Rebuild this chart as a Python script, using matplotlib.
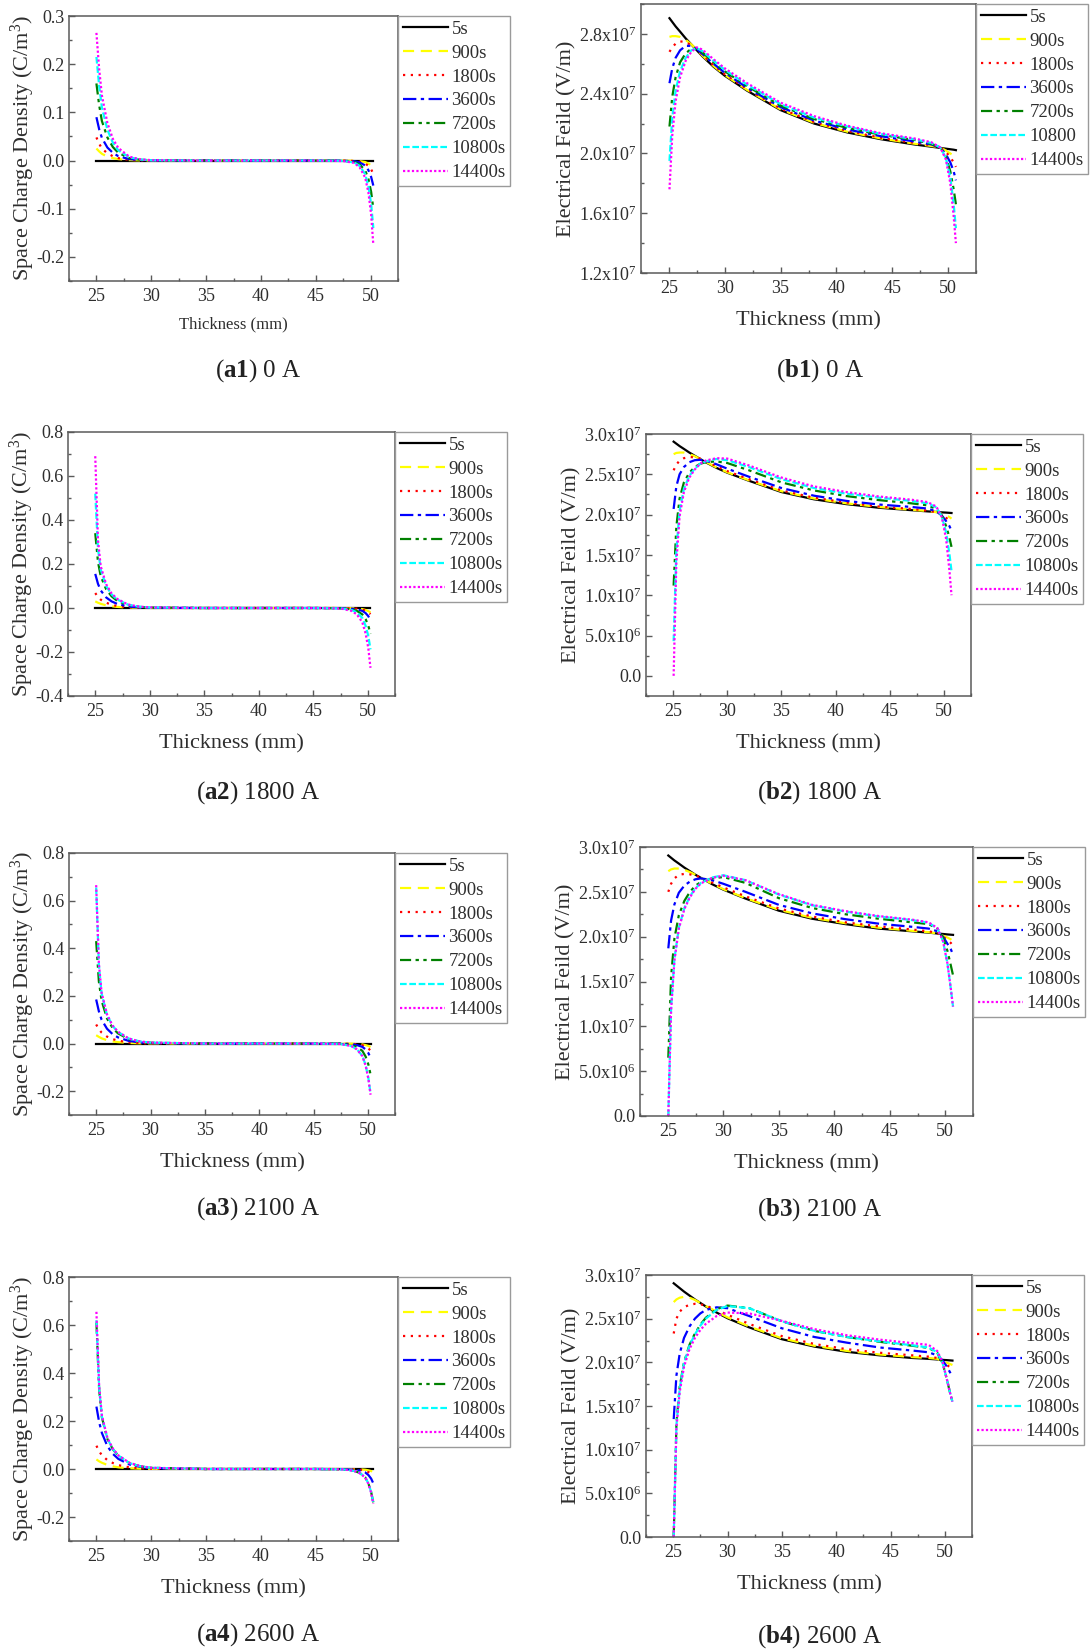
import numpy as np
import matplotlib.pyplot as plt
from matplotlib.ticker import MultipleLocator, FuncFormatter, FormatStrFormatter

plt.rcParams['font.family'] = ['Liberation Serif', 'DejaVu Serif']
plt.rcParams['mathtext.fontset'] = 'custom'
plt.rcParams['mathtext.rm'] = 'Liberation Serif'
plt.rcParams['mathtext.it'] = 'Liberation Serif:italic'
plt.rcParams['mathtext.bf'] = 'Liberation Serif:bold'
plt.rcParams['axes.unicode_minus'] = False

W, H = 1091, 1652

times = ['5s', '900s', '1800s', '3600s', '7200s', '10800s', '14400s']
times_b1 = ['5s', '900s', '1800s', '3600s', '7200s', '10800', '14400s']

# thickness positions (mm) for space charge density curves
x_rho = [25.0, 25.25, 25.5, 26.0, 26.5, 27.0, 28.0, 29.0, 30.0, 35.0, 45.0,
         47.5, 48.5, 49.0, 49.5, 49.8, 50.05, 50.25]

# space charge density (C/m^3), one row per time
rho_0A = [
    [0, 0, 0, 0, 0, 0, 0, 0, 0, 0, 0, 0, 0, 0, 0, 0, 0, 0],
    [0.025, 0.019, 0.014, 0.008, 0.005, 0.003, 0.001, 0.0003, 0, 0, 0, 0, -0.0005, -0.0012, -0.003, -0.006, -0.010, -0.015],
    [0.048, 0.035, 0.025, 0.015, 0.009, 0.005, 0.0015, 0.0005, 0.0001, 0, 0, 0, -0.001, -0.0025, -0.006, -0.011, -0.018, -0.028],
    [0.090, 0.065, 0.047, 0.027, 0.016, 0.009, 0.003, 0.001, 0.0003, 0, 0, -0.0003, -0.0015, -0.004, -0.010, -0.020, -0.034, -0.052],
    [0.160, 0.115, 0.082, 0.048, 0.028, 0.016, 0.005, 0.0015, 0.0005, 0, 0, -0.0005, -0.003, -0.008, -0.020, -0.038, -0.065, -0.100],
    [0.215, 0.155, 0.110, 0.064, 0.037, 0.021, 0.007, 0.002, 0.0006, 0, 0, -0.0007, -0.004, -0.011, -0.028, -0.053, -0.090, -0.140],
    [0.265, 0.190, 0.135, 0.078, 0.045, 0.026, 0.008, 0.0025, 0.0008, 0, 0, -0.001, -0.005, -0.014, -0.035, -0.066, -0.112, -0.175],
]
rho_1800A = [
    [0, 0, 0, 0, 0, 0, 0, 0, 0, 0, 0, 0, 0, 0, 0, 0, 0, 0],
    [0.030, 0.024, 0.019, 0.012, 0.008, 0.005, 0.002, 0.0008, 0.0003, 0, 0, 0, -0.001, -0.002, -0.005, -0.009, -0.014, -0.020],
    [0.068, 0.050, 0.038, 0.024, 0.015, 0.009, 0.0035, 0.0012, 0.0004, 0, 0, -0.0003, -0.0015, -0.003, -0.007, -0.012, -0.019, -0.028],
    [0.155, 0.110, 0.080, 0.048, 0.030, 0.019, 0.007, 0.0025, 0.001, 0, 0, -0.0005, -0.003, -0.006, -0.013, -0.023, -0.037, -0.055],
    [0.340, 0.210, 0.145, 0.085, 0.053, 0.033, 0.013, 0.005, 0.002, 0, 0, -0.001, -0.006, -0.013, -0.029, -0.050, -0.080, -0.118],
    [0.520, 0.270, 0.175, 0.100, 0.062, 0.039, 0.015, 0.006, 0.0025, 0, 0, -0.0015, -0.009, -0.020, -0.045, -0.080, -0.127, -0.188],
    [0.690, 0.310, 0.190, 0.108, 0.066, 0.042, 0.016, 0.0065, 0.0028, 0, 0, -0.002, -0.013, -0.029, -0.065, -0.115, -0.182, -0.272],
]
rho_2100A = [
    [0, 0, 0, 0, 0, 0, 0, 0, 0, 0, 0, 0, 0, 0, 0, 0, 0, 0],
    [0.035, 0.028, 0.022, 0.014, 0.009, 0.006, 0.0025, 0.001, 0.0004, 0, 0, 0, -0.0007, -0.0015, -0.0035, -0.0065, -0.010, -0.015],
    [0.080, 0.060, 0.046, 0.029, 0.019, 0.012, 0.005, 0.002, 0.0008, 0, 0, -0.0003, -0.0015, -0.003, -0.007, -0.013, -0.020, -0.030],
    [0.185, 0.135, 0.100, 0.062, 0.040, 0.026, 0.011, 0.0045, 0.002, 0, 0, -0.0006, -0.003, -0.0065, -0.014, -0.025, -0.040, -0.060],
    [0.430, 0.260, 0.180, 0.105, 0.066, 0.043, 0.018, 0.008, 0.0035, 0, 0, -0.0012, -0.007, -0.014, -0.031, -0.055, -0.088, -0.130],
    [0.655, 0.330, 0.210, 0.120, 0.075, 0.049, 0.021, 0.009, 0.004, 0, 0, -0.002, -0.011, -0.024, -0.052, -0.091, -0.145, -0.210],
    [0.665, 0.335, 0.213, 0.122, 0.076, 0.050, 0.021, 0.009, 0.004, 0, 0, -0.002, -0.011, -0.025, -0.053, -0.093, -0.148, -0.215],
]
rho_2600A = [
    [0, 0, 0, 0, 0, 0, 0, 0, 0, 0, 0, 0, 0, 0, 0, 0, 0, 0],
    [0.040, 0.032, 0.026, 0.017, 0.011, 0.007, 0.003, 0.0013, 0.0005, 0, 0, 0, -0.0006, -0.0013, -0.003, -0.0055, -0.0085, -0.012],
    [0.097, 0.074, 0.057, 0.037, 0.025, 0.016, 0.007, 0.003, 0.0013, 0, 0, -0.0003, -0.0015, -0.003, -0.007, -0.013, -0.020, -0.030],
    [0.260, 0.195, 0.150, 0.095, 0.063, 0.042, 0.019, 0.009, 0.004, 0, 0, -0.0006, -0.003, -0.0065, -0.014, -0.025, -0.040, -0.060],
    [0.610, 0.330, 0.215, 0.125, 0.082, 0.055, 0.025, 0.011, 0.005, 0, 0, -0.0015, -0.008, -0.016, -0.034, -0.060, -0.096, -0.140],
    [0.620, 0.335, 0.218, 0.127, 0.083, 0.056, 0.025, 0.011, 0.005, 0, 0, -0.0015, -0.008, -0.016, -0.034, -0.060, -0.096, -0.140],
    [0.655, 0.345, 0.222, 0.130, 0.085, 0.057, 0.026, 0.012, 0.005, 0, 0, -0.0015, -0.008, -0.017, -0.035, -0.062, -0.099, -0.145],
]

# thickness positions (mm) for electric field curves
x_e = [25.05, 25.3, 25.6, 26.0, 26.5, 27.0, 27.5, 28.0, 29.0, 30.0, 32.0, 35.0,
       38.0, 41.0, 44.0, 47.0, 48.5, 49.3, 49.8, 50.2, 50.5, 50.7]

# electric field in units of 1e7 V/m, one row per time
e_0A = [
    [2.905, 2.88, 2.85, 2.815, 2.77, 2.73, 2.69, 2.65, 2.58, 2.52, 2.42, 2.29, 2.20, 2.14, 2.095, 2.06, 2.045, 2.037, 2.032, 2.028, 2.025, 2.022],
    [2.78, 2.785, 2.785, 2.78, 2.76, 2.73, 2.695, 2.655, 2.585, 2.525, 2.425, 2.295, 2.205, 2.145, 2.10, 2.065, 2.05, 2.04, 2.02, 2.00, 1.985, 1.97],
    [2.68, 2.71, 2.735, 2.75, 2.745, 2.725, 2.695, 2.66, 2.59, 2.53, 2.43, 2.30, 2.21, 2.15, 2.105, 2.07, 2.055, 2.04, 2.01, 1.975, 1.94, 1.91],
    [2.47, 2.57, 2.64, 2.69, 2.72, 2.72, 2.70, 2.665, 2.60, 2.54, 2.44, 2.31, 2.22, 2.16, 2.115, 2.08, 2.06, 2.04, 1.995, 1.94, 1.88, 1.82],
    [2.18, 2.38, 2.51, 2.61, 2.67, 2.70, 2.70, 2.675, 2.61, 2.55, 2.45, 2.32, 2.23, 2.17, 2.125, 2.09, 2.065, 2.04, 1.98, 1.88, 1.76, 1.66],
    [1.95, 2.24, 2.42, 2.55, 2.64, 2.69, 2.705, 2.685, 2.62, 2.56, 2.46, 2.33, 2.24, 2.18, 2.13, 2.095, 2.07, 2.04, 1.97, 1.84, 1.66, 1.50],
    [1.76, 2.12, 2.35, 2.51, 2.62, 2.68, 2.71, 2.695, 2.63, 2.57, 2.47, 2.34, 2.25, 2.185, 2.135, 2.10, 2.075, 2.04, 1.96, 1.80, 1.58, 1.40],
]
e_1800A = [
    [2.905, 2.88, 2.85, 2.815, 2.77, 2.73, 2.69, 2.65, 2.58, 2.52, 2.42, 2.28, 2.19, 2.13, 2.085, 2.055, 2.04, 2.033, 2.028, 2.025, 2.022, 2.02],
    [2.75, 2.765, 2.77, 2.77, 2.75, 2.725, 2.69, 2.655, 2.585, 2.525, 2.425, 2.29, 2.20, 2.14, 2.095, 2.06, 2.045, 2.03, 2.01, 1.99, 1.97, 1.95],
    [2.55, 2.62, 2.67, 2.70, 2.715, 2.71, 2.695, 2.665, 2.60, 2.54, 2.44, 2.30, 2.21, 2.15, 2.10, 2.07, 2.05, 2.03, 2.00, 1.96, 1.93, 1.90],
    [2.07, 2.35, 2.50, 2.59, 2.65, 2.675, 2.68, 2.67, 2.625, 2.57, 2.47, 2.33, 2.235, 2.17, 2.125, 2.095, 2.075, 2.04, 1.99, 1.92, 1.86, 1.80],
    [1.12, 1.85, 2.20, 2.40, 2.52, 2.59, 2.63, 2.65, 2.66, 2.64, 2.55, 2.40, 2.30, 2.23, 2.18, 2.14, 2.115, 2.07, 1.99, 1.86, 1.72, 1.60],
    [0.43, 1.55, 2.05, 2.32, 2.48, 2.57, 2.63, 2.66, 2.69, 2.675, 2.59, 2.44, 2.33, 2.26, 2.21, 2.17, 2.14, 2.09, 1.98, 1.78, 1.52, 1.30],
    [0.00, 1.40, 1.98, 2.28, 2.46, 2.56, 2.63, 2.67, 2.70, 2.695, 2.61, 2.46, 2.35, 2.28, 2.225, 2.185, 2.155, 2.10, 1.97, 1.70, 1.32, 1.00],
]
e_2100A = [
    [2.905, 2.88, 2.85, 2.815, 2.77, 2.73, 2.69, 2.655, 2.585, 2.525, 2.425, 2.29, 2.20, 2.14, 2.09, 2.06, 2.045, 2.035, 2.03, 2.025, 2.022, 2.02],
    [2.73, 2.75, 2.76, 2.76, 2.745, 2.72, 2.69, 2.655, 2.59, 2.53, 2.43, 2.30, 2.21, 2.15, 2.10, 2.065, 2.05, 2.035, 2.01, 1.99, 1.97, 1.95],
    [2.50, 2.59, 2.65, 2.69, 2.70, 2.695, 2.68, 2.66, 2.605, 2.55, 2.45, 2.315, 2.225, 2.16, 2.115, 2.08, 2.06, 2.04, 2.00, 1.96, 1.93, 1.90],
    [1.87, 2.18, 2.36, 2.49, 2.57, 2.615, 2.64, 2.65, 2.63, 2.59, 2.50, 2.355, 2.26, 2.195, 2.145, 2.11, 2.09, 2.06, 2.00, 1.92, 1.86, 1.80],
    [0.65, 1.55, 1.98, 2.24, 2.40, 2.50, 2.57, 2.61, 2.65, 2.665, 2.60, 2.43, 2.32, 2.25, 2.20, 2.16, 2.14, 2.09, 1.99, 1.84, 1.68, 1.57],
    [0.00, 1.20, 1.75, 2.10, 2.32, 2.45, 2.54, 2.60, 2.66, 2.685, 2.63, 2.47, 2.35, 2.28, 2.225, 2.185, 2.155, 2.09, 1.95, 1.70, 1.42, 1.22],
    [0.00, 1.18, 1.73, 2.09, 2.31, 2.44, 2.535, 2.595, 2.655, 2.68, 2.63, 2.475, 2.355, 2.285, 2.23, 2.19, 2.16, 2.095, 1.95, 1.70, 1.42, 1.22],
]
e_2600A = [
    [2.905, 2.88, 2.85, 2.81, 2.765, 2.72, 2.68, 2.64, 2.57, 2.505, 2.40, 2.265, 2.18, 2.12, 2.08, 2.05, 2.04, 2.033, 2.028, 2.025, 2.022, 2.02],
    [2.69, 2.72, 2.74, 2.75, 2.74, 2.715, 2.68, 2.645, 2.58, 2.515, 2.41, 2.275, 2.19, 2.13, 2.09, 2.06, 2.05, 2.04, 2.01, 1.995, 1.98, 1.97],
    [2.33, 2.50, 2.58, 2.63, 2.66, 2.67, 2.665, 2.65, 2.60, 2.545, 2.44, 2.30, 2.21, 2.15, 2.11, 2.08, 2.065, 2.05, 2.01, 1.97, 1.94, 1.92],
    [1.35, 1.85, 2.10, 2.28, 2.41, 2.50, 2.56, 2.60, 2.63, 2.62, 2.53, 2.39, 2.29, 2.225, 2.17, 2.135, 2.115, 2.08, 2.02, 1.95, 1.88, 1.83],
    [0.00, 1.30, 1.72, 2.00, 2.20, 2.33, 2.43, 2.51, 2.61, 2.65, 2.62, 2.47, 2.36, 2.29, 2.235, 2.19, 2.165, 2.11, 1.99, 1.80, 1.64, 1.55],
    [0.00, 1.28, 1.70, 1.99, 2.19, 2.32, 2.42, 2.50, 2.60, 2.645, 2.62, 2.47, 2.36, 2.29, 2.24, 2.195, 2.17, 2.115, 1.99, 1.80, 1.64, 1.55],
    [0.00, 1.25, 1.66, 1.95, 2.15, 2.28, 2.37, 2.44, 2.53, 2.57, 2.56, 2.475, 2.38, 2.31, 2.26, 2.22, 2.20, 2.13, 2.00, 1.80, 1.64, 1.55],
]
E_UNIT = 1e7

colors = ['black', '#ffff00', '#ff0000', '#0000ff', '#008000', '#00ffff', '#ff00ff']
styles = ['-', (0, (5, 3)), (0, (1, 2.5)), (0, (6, 2, 1.5, 2)),
          (0, (5, 2, 1.5, 2, 1.5, 2)), (0, (3, 1.2)), (0, (1, 1))]

TXT = '#2e2e2e'
SPINE = '#5a5a5a'


def e_fmt(v, pos):
    if abs(v) < 1:
        return '0.0'
    p = int(np.floor(np.log10(abs(v)) + 1e-9))
    return f'{v / 10**p:.1f}x10$^{{{p}}}$'


def box(l, r, t, b):
    return [l / W, 1 - b / H, (r - l) / W, (b - t) / H]


fig = plt.figure(figsize=(W / 100, H / 100), dpi=100)


def panel(rect, x, rows, labels, ylim, ymaj, ylabel, fmt, scale=1.0, xl_size=16,
          xpad=10, ypad=2):
    ax = fig.add_axes(rect)
    for row, lab, c, ls in zip(rows, labels, colors, styles):
        ax.plot(x, np.array(row) * scale, color=c, linestyle=ls, lw=1.6, label=lab)
    ax.set_xlim(22.5, 52.5)
    ax.set_ylim(*ylim)
    ax.xaxis.set_major_locator(MultipleLocator(5))
    ax.xaxis.set_minor_locator(MultipleLocator(2.5))
    ax.yaxis.set_major_locator(MultipleLocator(ymaj))
    ax.yaxis.set_minor_locator(MultipleLocator(ymaj / 2))
    ax.yaxis.set_major_formatter(fmt)
    ax.tick_params(which='both', direction='in', top=False, right=False,
                   colors=SPINE, labelcolor=TXT, labelsize=13)
    ax.tick_params(which='major', length=4, width=1)
    ax.tick_params(which='minor', length=2.5, width=1)
    ax.tick_params(axis='x', pad=5)
    ax.tick_params(axis='y', pad=3)
    for s in ax.spines.values():
        s.set_color(SPINE)
        s.set_linewidth(1.1)
    ax.set_xlabel('Thickness (mm)', fontsize=xl_size, color=TXT, labelpad=xpad)
    ax.set_ylabel(ylabel, fontsize=16, color=TXT, labelpad=ypad)
    leg = ax.legend(loc='upper left', bbox_to_anchor=(1.0, 1.0), borderaxespad=0,
                    fancybox=False, edgecolor='#9a9a9a', framealpha=1, fontsize=13.5,
                    handlelength=2.4, handletextpad=0.2, labelspacing=0.36,
                    borderpad=0.25)
    leg.get_frame().set_linewidth(1.0)
    for t in leg.get_texts():
        t.set_color(TXT)
    return ax


rho_label = r'Space Charge Density (C/m$^{3}$)'
e_label = 'Electrical Feild (V/m)'
rho_fmt = FormatStrFormatter('%.1f')

panel(box(69, 398, 16, 281), x_rho, rho_0A, times, (-0.25, 0.3), 0.1, rho_label, rho_fmt,
      xl_size=12, xpad=8, ypad=0)
panel(box(641, 976, 4, 273), x_e, e_0A, times_b1, (1.2e7, 3.0e7), 0.4e7, e_label,
      FuncFormatter(e_fmt), scale=E_UNIT)
panel(box(68, 395, 432, 696), x_rho, rho_1800A, times, (-0.4, 0.8), 0.2, rho_label, rho_fmt,
      ypad=0)
panel(box(646, 971, 434, 696), x_e, e_1800A, times, (-0.25e7, 3.0e7), 0.5e7, e_label,
      FuncFormatter(e_fmt), scale=E_UNIT)
panel(box(69, 395, 853, 1115), x_rho, rho_2100A, times, (-0.3, 0.8), 0.2, rho_label, rho_fmt,
      ypad=0)
panel(box(640, 973, 847, 1116), x_e, e_2100A, times, (0, 3.0e7), 0.5e7, e_label,
      FuncFormatter(e_fmt), scale=E_UNIT)
panel(box(69, 398, 1277, 1541), x_rho, rho_2600A, times, (-0.3, 0.8), 0.2, rho_label, rho_fmt,
      ypad=0)
panel(box(646, 972, 1275, 1537), x_e, e_2600A, times, (0, 3.0e7), 0.5e7, e_label,
      FuncFormatter(e_fmt), scale=E_UNIT)

captions = [
    (258, 371, r'($\mathbf{a1}$) 0 A'), (820, 371, r'($\mathbf{b1}$) 0 A'),
    (258, 793, r'($\mathbf{a2}$) 1800 A'), (820, 793, r'($\mathbf{b2}$) 1800 A'),
    (258, 1209, r'($\mathbf{a3}$) 2100 A'), (820, 1210, r'($\mathbf{b3}$) 2100 A'),
    (258, 1635, r'($\mathbf{a4}$) 2600 A'), (820, 1637, r'($\mathbf{b4}$) 2600 A'),
]
for cx, cy, s in captions:
    fig.text(cx / W, 1 - cy / H, s, ha='center', va='center', fontsize=18, color='#222222')

fig.savefig('out.png', dpi=100)
